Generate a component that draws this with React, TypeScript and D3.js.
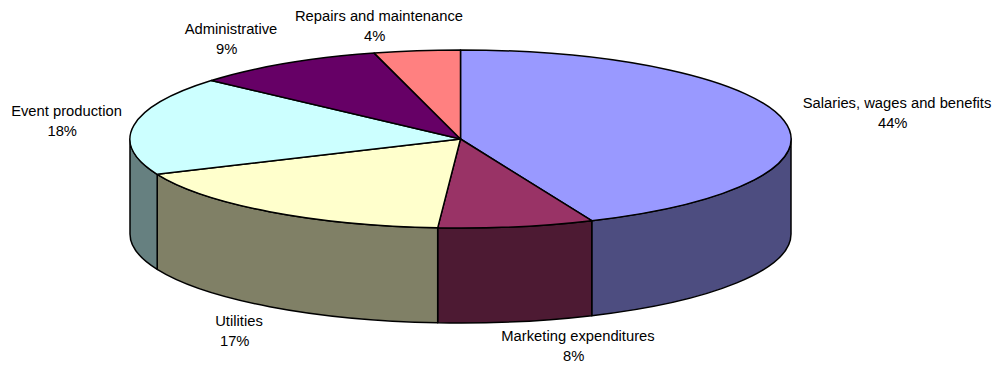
import React from "react";
import * as d3 from "d3";

// Operating expense shares in percent; labels show whole percents.
const categories = [
  "Salaries, wages and benefits",
  "Marketing expenditures",
  "Utilities",
  "Event production",
  "Administrative",
  "Repairs and maintenance",
];
const shares = [43.5, 7.6, 17.4, 17.9, 9.4, 4.2];
const topColors = ["#9999FF", "#993366", "#FFFFCC", "#CCFFFF", "#660066", "#FF8080"];
const labelAnchors: [number, number][] = [
  [897, 108],
  [578, 341],
  [239, 326],
  [66.5, 116],
  [231, 34],
  [379, 21],
];

const WIDTH = 998;
const HEIGHT = 369;
const CX = 460.5;
const CY = 139;
const RX = 330.5;
const RY = 89;
const DEPTH = 95;
const LINE_GAP = 19.7;
const PERCENT_SHIFT = -4.3;
const OUTLINE = 1.5;

// Angle is measured clockwise from the top of the tilted disc.
const ex = d3.scaleLinear().domain([-1, 1]).range([CX - RX, CX + RX]);
const ey = d3.scaleLinear().domain([-1, 1]).range([CY - RY, CY + RY]);
const rimPoint = (a: number): [number, number] => [ex(Math.sin(a)), ey(-Math.cos(a))];

const pieLayout = d3.pie<number>().sort(null).value((d) => d);
const unitArc = d3.arc<d3.PieArcDatum<number>>().innerRadius(0).outerRadius(1);

// The rim is lit at half the brightness of the slice's top face.
function wallColor(color: string): string {
  const { r, g, b } = d3.rgb(color);
  return d3.rgb(r / 2, g / 2, b / 2).formatHex();
}

function wallPath(a0: number, a1: number): string {
  const [x0, y0] = rimPoint(a0);
  const [x1, y1] = rimPoint(a1);
  return [
    `M${x0},${y0}`,
    `A${RX},${RY} 0 0 1 ${x1},${y1}`,
    `L${x1},${y1 + DEPTH}`,
    `A${RX},${RY} 0 0 0 ${x0},${y0 + DEPTH}`,
    "Z",
  ].join(" ");
}

export default function App() {
  const arcs = pieLayout(shares);
  const frontStart = Math.PI / 2;
  const frontEnd = (3 * Math.PI) / 2;
  const walls = arcs
    .map((d, i) => ({
      i,
      a0: Math.max(d.startAngle, frontStart),
      a1: Math.min(d.endAngle, frontEnd),
    }))
    .filter((w) => w.a1 > w.a0);

  return (
    <svg
      width={WIDTH}
      height={HEIGHT}
      viewBox={`0 0 ${WIDTH} ${HEIGHT}`}
      style={{ position: "absolute", left: 0, top: 0, display: "block", background: "#fff" }}
    >
      <g stroke="#000" strokeWidth={OUTLINE} strokeLinejoin="round">
        {walls.map((w) => (
          <path key={w.i} d={wallPath(w.a0, w.a1)} fill={wallColor(topColors[w.i])} />
        ))}
      </g>
      <g transform={`translate(${CX},${CY}) scale(${RX},${RY})`}>
        {arcs.map((d, i) => (
          <path
            key={i}
            d={unitArc(d) ?? ""}
            fill={topColors[i]}
            stroke="#000"
            strokeWidth={OUTLINE}
            strokeLinejoin="round"
            vectorEffect="non-scaling-stroke"
          />
        ))}
      </g>
      <g fontFamily="'Liberation Sans', Arial, sans-serif" fontSize={14.75} fill="#000" textAnchor="middle">
        {categories.map((name, i) => (
          <text key={name} y={labelAnchors[i][1]}>
            <tspan x={labelAnchors[i][0]}>{name}</tspan>
            <tspan x={labelAnchors[i][0] + PERCENT_SHIFT} dy={LINE_GAP}>
              {d3.format(".0f")(shares[i])}%
            </tspan>
          </text>
        ))}
      </g>
    </svg>
  );
}
